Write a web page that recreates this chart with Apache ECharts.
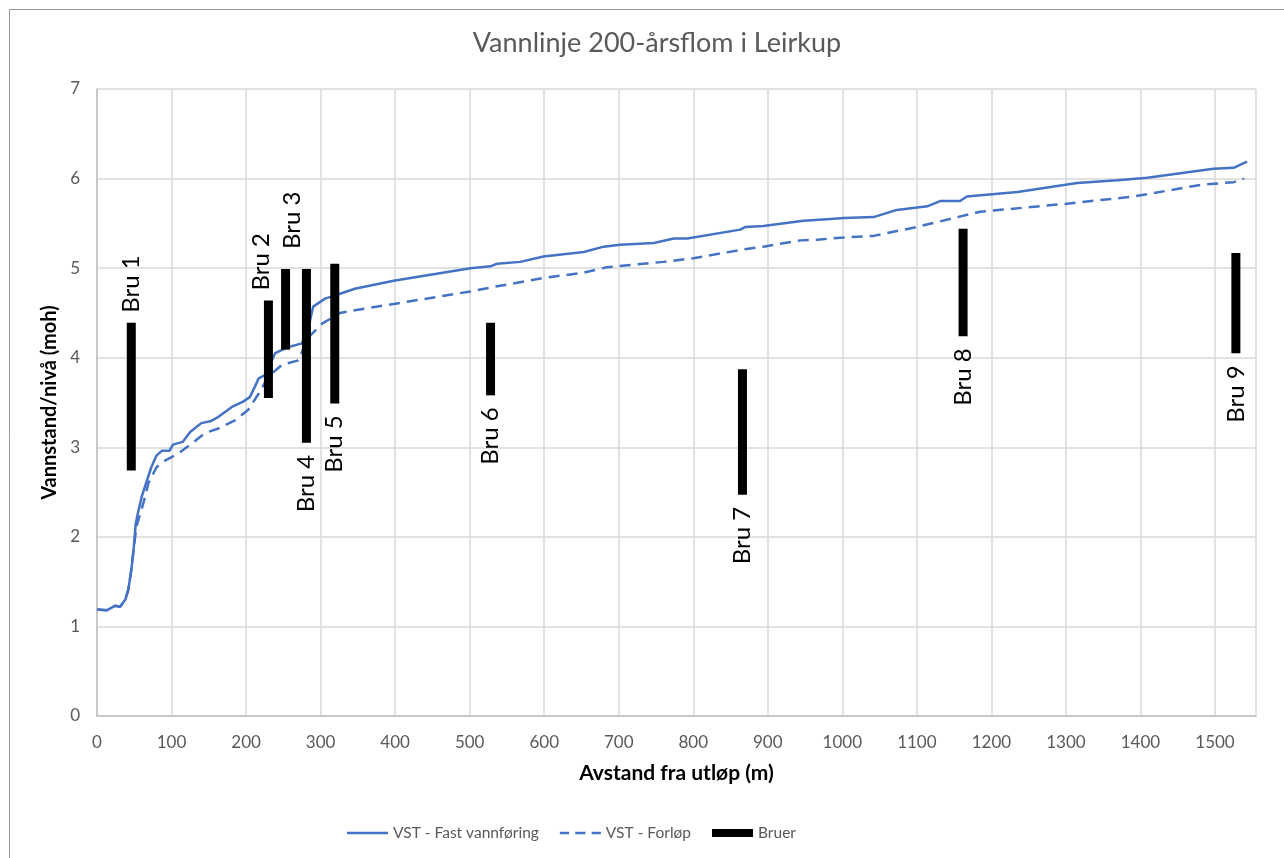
<!DOCTYPE html>
<html>
<head>
<meta charset="utf-8">
<script src="https://cdn.jsdelivr.net/npm/echarts@6/dist/echarts.min.js"></script>
<style>
html,body{margin:0;padding:0;background:#fff;}
#chart{width:1284px;height:858px;}
</style>
</head>
<body>
<div id="chart"></div>
<script>
// ---- Data ----
const titleText = 'Vannlinje 200-årsflom i Leirkup';
const xAxisName = 'Avstand fra utløp (m)';
const yAxisName = 'Vannstand/nivå (moh)';
const seriesNames = ['VST - Fast vannføring', 'VST - Forløp', 'Bruer'];

// VST - Fast vannføring (distance m, level moh)
const fastDist = [0, 13, 24, 31, 38, 42, 46, 49, 52, 55, 60, 67, 73, 80, 87, 97, 102, 115, 125, 140, 152, 163, 181, 196, 205, 212, 217, 226, 239, 257, 275, 284, 290, 306, 328, 346, 398, 501, 528, 537, 568, 599, 653, 680, 702, 747, 774, 792, 863, 870, 894, 948, 984, 1002, 1042, 1073, 1114, 1132, 1158, 1167, 1235, 1315, 1369, 1409, 1498, 1525, 1543];
const fastLevel = [1.19, 1.18, 1.23, 1.22, 1.30, 1.41, 1.63, 1.85, 2.15, 2.27, 2.45, 2.63, 2.78, 2.91, 2.96, 2.96, 3.03, 3.06, 3.17, 3.27, 3.29, 3.34, 3.45, 3.51, 3.56, 3.68, 3.77, 3.81, 4.05, 4.12, 4.16, 4.35, 4.57, 4.66, 4.72, 4.77, 4.86, 5.00, 5.02, 5.05, 5.07, 5.13, 5.18, 5.24, 5.26, 5.28, 5.33, 5.33, 5.43, 5.46, 5.47, 5.53, 5.55, 5.56, 5.57, 5.65, 5.69, 5.75, 5.75, 5.80, 5.85, 5.95, 5.98, 6.01, 6.11, 6.12, 6.19];

// VST - Forløp
const forlopDist = [0, 13, 24, 31, 38, 42, 46, 49, 53, 62, 69, 80, 93, 109, 127, 145, 163, 185, 203, 217, 230, 248, 270, 284, 302, 326, 346, 398, 501, 532, 599, 653, 684, 760, 800, 868, 894, 944, 970, 997, 1042, 1100, 1150, 1185, 1302, 1391, 1481, 1525, 1539];
const forlopLevel = [1.19, 1.18, 1.23, 1.22, 1.30, 1.41, 1.63, 1.85, 2.12, 2.37, 2.60, 2.78, 2.86, 2.93, 3.04, 3.16, 3.21, 3.30, 3.42, 3.60, 3.79, 3.92, 3.97, 4.23, 4.38, 4.50, 4.53, 4.60, 4.74, 4.79, 4.89, 4.95, 5.01, 5.07, 5.11, 5.21, 5.24, 5.31, 5.32, 5.34, 5.36, 5.46, 5.56, 5.63, 5.72, 5.80, 5.93, 5.96, 6.00];

// Bruer (bridges)
const bruNames = ['Bru 1', 'Bru 2', 'Bru 3', 'Bru 4', 'Bru 5', 'Bru 6', 'Bru 7', 'Bru 8', 'Bru 9'];
const bruDist = [46, 230, 253, 281, 319, 528, 866, 1162, 1528];
const bruTop = [4.39, 4.64, 4.99, 4.99, 5.05, 4.39, 3.87, 5.44, 5.17];
const bruBottom = [2.74, 3.55, 4.09, 3.05, 3.49, 3.58, 2.47, 4.24, 4.05];

// ---- Label layout (style, not data) ----
const bruLabelAbove = ['Bru 1', 'Bru 2', 'Bru 3'];
const bruLabelShift = {'Bru 2': [-7, 0], 'Bru 3': [7, -10]};

// ---- Chart ----
const FONT = 'Lato, "Liberation Sans", sans-serif';
const BLUE = '#4472C4';

const zip = (a, b) => a.map((v, i) => [v, b[i]]);

const chart = echarts.init(document.getElementById('chart'), null, {renderer: 'canvas'});

const option = {
  backgroundColor: '#fff',
  animation: false,
  title: {
    text: titleText,
    left: 652,
    textAlign: 'center',
    top: 25,
    textStyle: {fontFamily: FONT, fontSize: 27, fontWeight: 'normal', color: '#595959'}
  },
  graphic: [{
    type: 'rect',
    shape: {x: 9.5, y: 9.5, width: 1400, height: 1000},
    style: {fill: 'none', stroke: '#999', lineWidth: 1},
    silent: true
  }],
  grid: {left: 97, right: 28, top: 89, bottom: 142},
  legend: {
    left: 342,
    top: 820,
    itemWidth: 41,
    itemHeight: 14,
    itemGap: 21,
    textStyle: {fontFamily: FONT, fontSize: 15.5, color: '#595959'},
    data: [
      {name: seriesNames[0], icon: 'path://M0,0H40V2.6H0Z'},
      {name: seriesNames[1], icon: 'path://M0,0H9V2.6H0Z M15,0H25V2.6H15Z M31,0H40V2.6H31Z'},
      {name: seriesNames[2], icon: 'path://M0,0H41V8H0Z'}
    ]
  },
  xAxis: {
    type: 'value',
    min: 0,
    max: 1555,
    interval: 100,
    name: xAxisName,
    nameLocation: 'middle',
    nameGap: 47,
    nameTextStyle: {fontFamily: FONT, fontSize: 21, fontWeight: 'bold', color: '#000'},
    axisLine: {show: true, lineStyle: {color: '#bfbfbf', width: 1.5}},
    axisTick: {show: false},
    axisLabel: {
      showMaxLabel: false, margin: 18, fontFamily: FONT, fontSize: 17, color: '#595959',
      formatter: v => String(v)
    },
    splitLine: {show: true, lineStyle: {color: '#d9d9d9', width: 1.5}}
  },
  yAxis: {
    type: 'value',
    min: 0,
    max: 7,
    interval: 1,
    name: yAxisName,
    nameLocation: 'middle',
    nameGap: 36,
    nameRotate: 90,
    nameTextStyle: {fontFamily: FONT, fontSize: 20, fontWeight: 'bold', color: '#000'},
    axisLine: {show: true, lineStyle: {color: '#bfbfbf', width: 1.5}},
    axisTick: {show: false},
    axisLabel: {margin: 17, fontFamily: FONT, fontSize: 17, color: '#595959'},
    splitLine: {show: true, lineStyle: {color: '#d9d9d9', width: 1.5}}
  },
  series: [
    {
      name: seriesNames[0],
      type: 'line',
      data: zip(fastDist, fastLevel),
      symbol: 'none',
      showSymbol: false,
      color: BLUE,
      lineStyle: {color: BLUE, width: 2.5},
      z: 3
    },
    {
      name: seriesNames[1],
      type: 'line',
      data: zip(forlopDist, forlopLevel),
      symbol: 'none',
      showSymbol: false,
      color: BLUE,
      lineStyle: {color: BLUE, width: 2.5, type: [11, 7]},
      z: 2
    },
    {
      name: seriesNames[2],
      type: 'custom',
      color: '#000',
      itemStyle: {color: '#000'},
      z: 4,
      data: bruDist.map((d, i) => [d, bruTop[i], bruBottom[i]]),
      encode: {x: 0, y: [1, 2]},
      renderItem: function (params, api) {
        const i = params.dataIndex;
        const x = api.value(0);
        const pTop = api.coord([x, api.value(1)]);
        const pBot = api.coord([x, api.value(2)]);
        const w = 9;
        const name = bruNames[i];
        const above = bruLabelAbove.indexOf(name) >= 0;
        const shift = bruLabelShift[name] || [0, 0];
        return {
          type: 'group',
          children: [
            {
              type: 'rect',
              shape: {x: pTop[0] - w / 2, y: pTop[1], width: w, height: pBot[1] - pTop[1]},
              style: {fill: '#000'}
            },
            {
              type: 'text',
              x: pTop[0] + shift[0],
              y: (above ? pTop[1] - 10 : pBot[1] + 12) + shift[1],
              rotation: Math.PI / 2,
              style: {
                text: name,
                font: '24px ' + FONT,
                fill: '#000',
                align: above ? 'left' : 'right',
                verticalAlign: 'middle'
              }
            }
          ]
        };
      }
    }
  ]
};

chart.setOption(option);
</script>
</body>
</html>
